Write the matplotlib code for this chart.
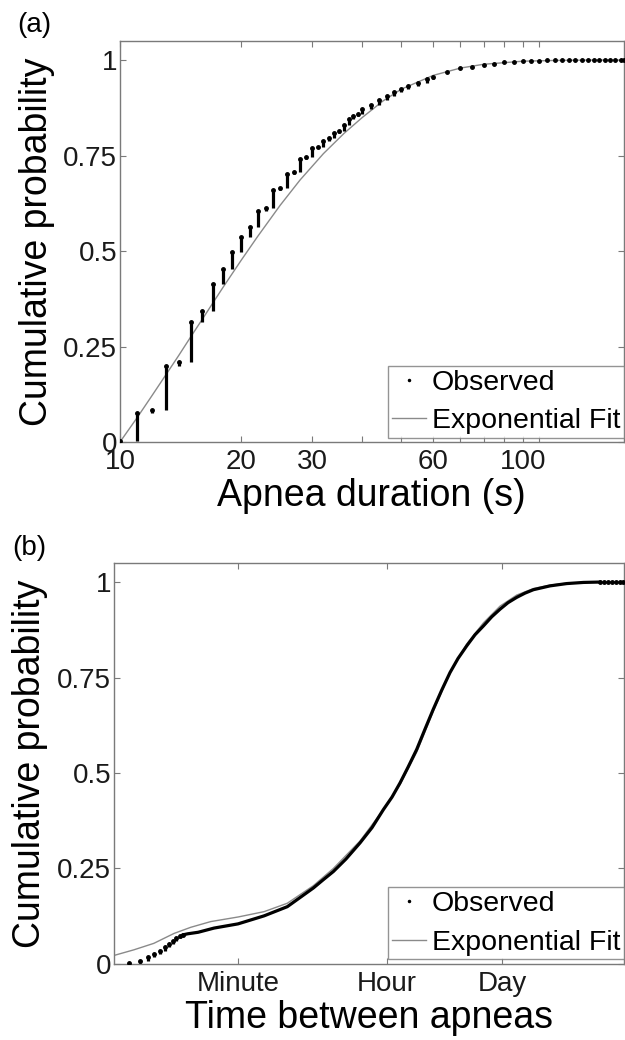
import numpy as np
import matplotlib
matplotlib.use("Agg")
import matplotlib.pyplot as plt
from matplotlib.ticker import FixedLocator, FixedFormatter, NullLocator

plt.rcParams['font.family'] = ['Liberation Sans', 'DejaVu Sans']

# (a) apnea duration, seconds -> cumulative probability
dur_obs = [10, 11, 12, 13, 14, 15, 16, 17, 18, 19, 20, 21, 22, 23, 24, 25, 26, 27, 28, 29,
           30, 31, 32, 33, 34, 35, 36, 37, 38, 39, 40, 42, 44, 46, 48, 50, 52, 55, 58, 60,
           65, 70, 75, 80, 85, 90, 95, 100, 105, 110, 115, 120, 125, 130, 135, 140, 145, 150,
           155, 160, 165, 170, 175, 178]
dur_cdf = [0.002, 0.076, 0.083, 0.200, 0.210, 0.315, 0.343, 0.415, 0.453, 0.497, 0.537, 0.562,
           0.605, 0.612, 0.661, 0.665, 0.703, 0.707, 0.741, 0.747, 0.769, 0.772, 0.787, 0.795,
           0.810, 0.813, 0.830, 0.845, 0.853, 0.858, 0.872, 0.882, 0.895, 0.905, 0.916, 0.925,
           0.932, 0.940, 0.950, 0.956, 0.968, 0.978, 0.983, 0.987, 0.991, 0.994, 0.996, 0.997,
           0.998, 0.998, 0.999, 0.999, 0.999, 0.9995, 0.9995, 1.0, 1.0, 1.0, 1.0, 1.0, 1.0,
           1.0, 1.0, 1.0]
dur_fit_x = [10, 11, 12, 13, 14, 15, 16, 18, 20, 22, 25, 28, 32, 36, 40, 45, 50, 60, 70, 80,
             100, 120, 150, 180]
dur_fit_y = [0.0, 0.062, 0.121, 0.176, 0.227, 0.276, 0.321, 0.404, 0.476, 0.539, 0.620, 0.686,
             0.755, 0.808, 0.850, 0.893, 0.924, 0.960, 0.979, 0.989, 0.997, 0.999, 1.0, 1.0]
dur_ticks = [10, 20, 30, 40, 50, 60, 70, 80, 90, 100, 110]
dur_labels = ['10', '20', '30', '', '', '60', '', '', '', '100', '']

# (b) time between apneas, seconds -> cumulative probability
gap_obs = [3, 4, 5, 6, 7, 8, 9, 10, 11, 12, 13, 15, 20, 31, 60, 123, 233, 478, 623, 828, 1175,
           1727, 2404, 3283, 4170, 5200, 6475, 8240, 10350, 13000, 16400, 20600, 25700, 32660,
           41000, 51650, 65000, 81800, 101800, 129500, 162600, 205000, 324000, 513000, 813000,
           1.29e6, 1.45e6, 1.6e6, 1.8e6, 2.0e6, 2.2e6, 2.4e6]
gap_cdf = [0.002, 0.009, 0.018, 0.025, 0.034, 0.044, 0.052, 0.061, 0.067, 0.072, 0.076, 0.079,
           0.083, 0.094, 0.105, 0.126, 0.150, 0.199, 0.220, 0.242, 0.275, 0.317, 0.357, 0.404,
           0.437, 0.474, 0.515, 0.562, 0.615, 0.667, 0.717, 0.763, 0.800, 0.833, 0.862, 0.885,
           0.909, 0.929, 0.946, 0.960, 0.971, 0.980, 0.990, 0.996, 0.999, 1.0, 1.0, 1.0, 1.0,
           1.0, 1.0, 1.0]
gap_fit_x = [1.5, 3.4, 5.9, 10.3, 16.3, 28.3, 60, 123, 233, 478, 828, 1727, 3283, 5200, 8240,
             13000, 20600, 32660, 51650, 81800, 129500, 205000, 324000, 513000, 813000,
             1.29e6, 2.45e6]
gap_fit_y = [0.015, 0.037, 0.054, 0.080, 0.096, 0.111, 0.123, 0.137, 0.159, 0.205, 0.250,
             0.322, 0.404, 0.470, 0.555, 0.662, 0.763, 0.838, 0.893, 0.937, 0.966, 0.983,
             0.992, 0.997, 0.999, 1.0, 1.0]
gap_ticks = [60, 3600, 86400]
gap_labels = ['Minute', 'Hour', 'Day']

prob_ticks = [0, 0.25, 0.5, 0.75, 1]
prob_labels = ['0', '0.25', '0.5', '0.75', '1']

GREY = '#8a8a8a'
SPINE = '#7a7a7a'

fig = plt.figure(figsize=(6.25, 10.4), dpi=100)
ax1 = fig.add_axes([0.192, 0.575, 0.8056, 0.3856])
ax2 = fig.add_axes([0.1824, 0.0731, 0.8152, 0.3856])


def stacks(ax, x, y, upto):
    # vertical runs of dots where many observations share a value
    x = np.asarray(x, float)
    y = np.asarray(y, float)
    prev = np.concatenate([[0.0], y[:-1]])
    m = x <= upto
    ax.vlines(x[m], prev[m], y[m], color='k', lw=2.3, zorder=3)


# panel (a)
ax1.plot(dur_fit_x, dur_fit_y, color=GREY, lw=1.0, label='Exponential Fit', zorder=2)
stacks(ax1, dur_obs, dur_cdf, 60)
ax1.plot(dur_obs, dur_cdf, 'k.', ms=5, zorder=3)
ax1.plot([], [], 'k.', ms=3, label='Observed')
ax1.set_xscale('log')
ax1.set_xlim(10, 178)
ax1.xaxis.set_major_locator(FixedLocator(dur_ticks))
ax1.xaxis.set_major_formatter(FixedFormatter(dur_labels))
ax1.xaxis.set_minor_locator(NullLocator())
ax1.set_xlabel('Apnea duration (s)', fontsize=27, labelpad=2)

# panel (b)
gx = np.asarray(gap_obs, float)
gy = np.asarray(gap_cdf, float)
ax2.plot(gap_fit_x, gap_fit_y, color=GREY, lw=1.0, label='Exponential Fit', zorder=2)
stacks(ax2, gx, gy, 13)
sparse = (gx <= 13) | (gx >= 1.29e6)
ax2.plot(gx[sparse], gy[sparse], 'k.', ms=5, zorder=3)
cont = (gx >= 13) & (gx <= 1.29e6)
ax2.plot(gx[cont], gy[cont], 'k-', lw=2.3, zorder=3, solid_capstyle='round')
ax2.plot([], [], 'k.', ms=3, label='Observed')
ax2.set_xscale('log')
ax2.set_xlim(1.97, 2.45e6)
ax2.xaxis.set_major_locator(FixedLocator(gap_ticks))
ax2.xaxis.set_major_formatter(FixedFormatter(gap_labels))
ax2.xaxis.set_minor_locator(NullLocator())
ax2.set_xlabel('Time between apneas', fontsize=27, labelpad=2)

for ax, legy in ((ax1, 0.0105), (ax2, 0.0125)):
    ax.set_ylim(0, 1.05)
    ax.set_yticks(prob_ticks)
    ax.set_yticklabels(prob_labels)
    ax.set_ylabel('Cumulative probability', fontsize=27)
    ax.yaxis.set_label_coords(-0.13, 0.5)
    ax.tick_params(direction='in', length=4, width=0.8, color=SPINE, top=True, right=True,
                   labelsize=20, labelcolor='#1a1a1a')
    ax.tick_params(axis='y', pad=2)
    ax.tick_params(axis='x', pad=5)
    for s in ax.spines.values():
        s.set_color(SPINE)
        s.set_linewidth(1.0)
    h, l = ax.get_legend_handles_labels()
    leg = ax.legend(h[::-1], l[::-1], loc='lower right', bbox_to_anchor=(1.0, legy),
                    fontsize=20.5, frameon=True, fancybox=False, edgecolor=SPINE,
                    handlelength=1.2, handletextpad=0.2, borderpad=0.12,
                    labelspacing=0.45, borderaxespad=0.0)
    leg.get_frame().set_linewidth(1.0)

fig.text(17 / 625, 1 - 25 / 1040, '(a)', fontsize=20, va='center', ha='left')
fig.text(12 / 625, 1 - 548 / 1040, '(b)', fontsize=20, va='center', ha='left')

fig.savefig('out.png', dpi=100)
